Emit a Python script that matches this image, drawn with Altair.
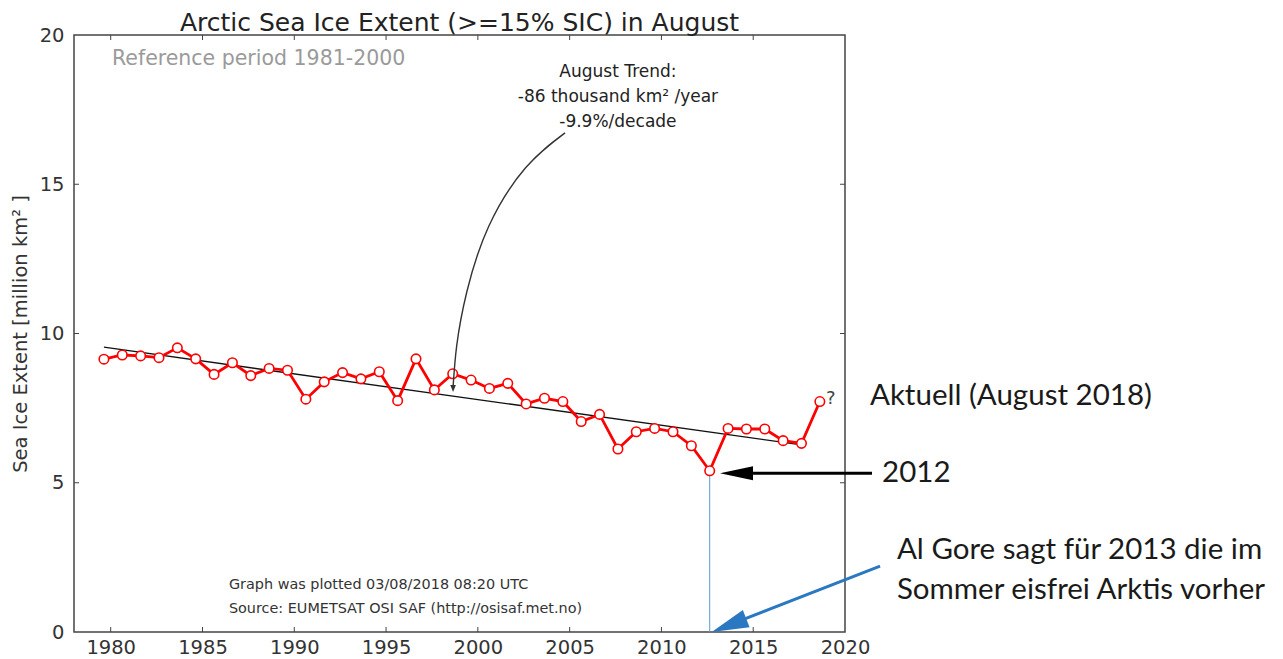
import altair as alt
import pandas as pd

# ---------------- data ----------------
years = list(range(1979, 2019))
extent = [9.14, 9.28, 9.25, 9.19, 9.52, 9.15, 8.63, 9.02, 8.59, 8.83,
          8.77, 7.80, 8.38, 8.69, 8.48, 8.72, 7.75, 9.15, 8.11, 8.65,
          8.44, 8.16, 8.33, 7.64, 7.83, 7.72, 7.05, 7.29, 6.13, 6.71,
          6.82, 6.71, 6.24, 5.40, 6.82, 6.80, 6.80, 6.41, 6.32, 7.72]
AUG = 0.63  # mid-August position within the year

trend_years = [1979, 2017]
trend_values = [9.54, 6.27]

x_ticks = [1980, 1985, 1990, 1995, 2000, 2005, 2010, 2015, 2020]
y_ticks = [0, 5, 10, 15, 20]
x_inner_ticks = [1980, 1985, 1990, 1995, 2000, 2005, 2010, 2015]
y_inner_ticks = [5, 10, 15]

trend_text = ["August Trend:", "-86 thousand km\u00b2 /year", "-9.9%/decade"]
trend_text_y = [18.76, 17.92, 17.09]
trend_text_x = 2007.63

arrow_curve_x = [2004.75, 2002.6, 2000.6, 1999.4, 1998.85, 1998.65]
arrow_curve_y = [16.72, 15.55, 13.6, 11.4, 9.6, 8.20]

source_text = ["Graph was plotted 03/08/2018 08:20 UTC",
               "Source: EUMETSAT OSI SAF (http://osisaf.met.no)"]
source_text_y = [1.57, 0.77]

right_lines = ["Aktuell (August 2018)", "2012",
               "Al Gore sagt f\u00fcr 2013 die im", "Sommer eisfrei Arktis vorher"]
right_x = [2021.36, 2022.02, 2022.83, 2022.83]
right_y = [7.91, 5.33, 2.75, 1.41]

# ---------------- tables ----------------
df = pd.DataFrame({"year": years, "extent": extent})
df["t"] = df["year"] + AUG
df_trend = pd.DataFrame({"t": [y + AUG for y in trend_years], "v": trend_values})
df_xt = pd.DataFrame({"t": x_inner_ticks})
df_yt = pd.DataFrame({"v": y_inner_ticks})
df_trtxt = pd.DataFrame({"x": [trend_text_x] * 3, "y": trend_text_y, "s": trend_text})
df_curve = pd.DataFrame({"x": arrow_curve_x, "y": arrow_curve_y, "i": list(range(len(arrow_curve_x)))})
df_src = pd.DataFrame({"x": [1986.44] * 2, "y": source_text_y, "s": source_text})
df_right = pd.DataFrame({"x": right_x, "y": right_y, "s": right_lines})
y2012 = extent[years.index(2012)]
df_2012 = pd.DataFrame({"t": [2012 + AUG], "v": [y2012], "z": [0.0]})

xs = alt.Scale(domain=[1978, 2020], nice=False, zero=False)
ys = alt.Scale(domain=[0, 20], nice=False, zero=False)
FONT = "DejaVu Sans"
xaxis = alt.Axis(values=x_ticks, format="d", title=None, grid=False, domain=False,
                 ticks=False, labelFontSize=19.5, labelColor="#333", labelPadding=6,
                 labelFlush=False, labelFont=FONT)
yaxis = alt.Axis(values=y_ticks, format="d", title="Sea Ice Extent [million km\u00b2 ]",
                 grid=False, domain=False, ticks=False, labelFontSize=19.5,
                 labelColor="#333", labelPadding=10, labelFlush=False, labelFont=FONT,
                 titleFontSize=19.5, titleFont=FONT, titleFontWeight="normal",
                 titleColor="#333", titleX=-54, titleY=298.5, titleAngle=270,
                 titleBaseline="middle", titleAlign="center")


def X(f):
    return alt.X(f, type="quantitative", scale=xs, axis=xaxis)


def Y(f):
    return alt.Y(f, type="quantitative", scale=ys, axis=yaxis)


W, H = 771, 597

trend = alt.Chart(df_trend).mark_line(color="#111", strokeWidth=1.3).encode(x=X("t"), y=Y("v"))

vline = alt.Chart(df_2012).mark_rule(color="#5B9BD5", strokeWidth=1).encode(
    x=X("t"), y=Y("v"), y2="z:Q")

line = alt.Chart(df).mark_line(color="#ff0000", strokeWidth=2.8).encode(x=X("t"), y=Y("extent"))
pts = alt.Chart(df).mark_point(shape="circle", size=90, filled=True, fill="white",
                               stroke="#ff0000", strokeWidth=1.6, opacity=1).encode(
    x=X("t"), y=Y("extent"))

tick_style = dict(color="#444", strokeWidth=1)
tb = alt.Chart(df_xt).mark_rule(**tick_style).encode(x=X("t"), y=alt.value(H), y2=alt.value(H - 5))
tt = alt.Chart(df_xt).mark_rule(**tick_style).encode(x=X("t"), y=alt.value(0), y2=alt.value(5))
tl = alt.Chart(df_yt).mark_rule(**tick_style).encode(y=Y("v"), x=alt.value(0), x2=alt.value(5))
tr = alt.Chart(df_yt).mark_rule(**tick_style).encode(y=Y("v"), x=alt.value(W), x2=alt.value(W - 5))

ref = alt.Chart(pd.DataFrame({"x": [1980.07], "y": [19.2], "s": ["Reference period 1981-2000"]})).mark_text(
    align="left", baseline="middle", font=FONT, fontSize=20.5, color="#9a9a9a").encode(
    x=X("x"), y=Y("y"), text="s:N")

trtxt = alt.Chart(df_trtxt).mark_text(align="center", baseline="middle", font=FONT,
                                      fontSize=17, color="#222").encode(
    x=X("x"), y=Y("y"), text="s:N")

curve = alt.Chart(df_curve).mark_line(color="#333", strokeWidth=1.4, interpolate="natural").encode(
    x=X("x"), y=Y("y"), order="i:Q")
curve_head = alt.Chart(pd.DataFrame({"x": [1998.65], "y": [8.04]})).mark_point(
    shape="M 0 0 L -0.8 -2 L 0.8 -2 Z", size=49, filled=True, color="#333", opacity=1).encode(
    x=X("x"), y=Y("y"))

src = alt.Chart(df_src).mark_text(align="left", baseline="middle", font=FONT,
                                  fontSize=14.4, color="#333").encode(
    x=X("x"), y=Y("y"), text="s:N")

qmark = alt.Chart(pd.DataFrame({"x": [2018.97], "y": [7.80], "s": ["?"]})).mark_text(
    align="left", baseline="middle", font=FONT, fontSize=18, color="#444").encode(
    x=X("x"), y=Y("y"), text="s:N")

right = alt.Chart(df_right).mark_text(align="left", baseline="middle", font="Lato",
                                      fontSize=29.5, color="#1a1a1a").encode(
    x=X("x"), y=Y("y"), text="s:N")

# black arrow to 2012
black_shaft = alt.Chart(pd.DataFrame({"x": [2014.99, 2021.47], "y": [5.32, 5.32]})).mark_line(
    color="black", strokeWidth=3).encode(x=X("x"), y=Y("y"))
black_head = alt.Chart(pd.DataFrame({"x": [2013.19], "y": [5.32]})).mark_point(
    shape="M 0 0 L 2 -0.42 L 2 0.42 Z", size=1089, filled=True, color="black", opacity=1).encode(
    x=X("x"), y=Y("y"))

# blue arrow to 2012 / zero
blue = "#2A78C2"
blue_shaft = alt.Chart(pd.DataFrame({"x": [2014.26, 2021.91], "y": [0.37, 2.21]})).mark_line(
    color=blue, strokeWidth=3).encode(x=X("x"), y=Y("y"))
blue_head = alt.Chart(pd.DataFrame({"x": [2012.74], "y": [0.0]})).mark_point(
    shape="M 0 0 L 2 -0.5 L 2 0.5 Z", size=1369, angle=338.7, filled=True, color=blue,
    opacity=1).encode(x=X("x"), y=Y("y"))

chart = alt.layer(
    trend, vline, line, pts, tb, tt, tl, tr, ref, trtxt, curve, curve_head, src, qmark,
    right, black_shaft, black_head, blue_shaft, blue_head
).properties(
    width=W, height=H,
    padding={"left": 66, "top": 27, "right": 429, "bottom": 25},
    autosize=alt.AutoSizeParams(type="none"),
    title=alt.TitleParams(text="Arctic Sea Ice Extent (>=15% SIC) in August", fontSize=25,
                          font=FONT, fontWeight="normal", color="#222", anchor="middle",
                          frame="group", offset=3, dy=14),
    background="white",
).configure_view(stroke="#444", strokeWidth=1.5)

chart.save("out.html", embed_options={"renderer": "svg", "actions": False})
